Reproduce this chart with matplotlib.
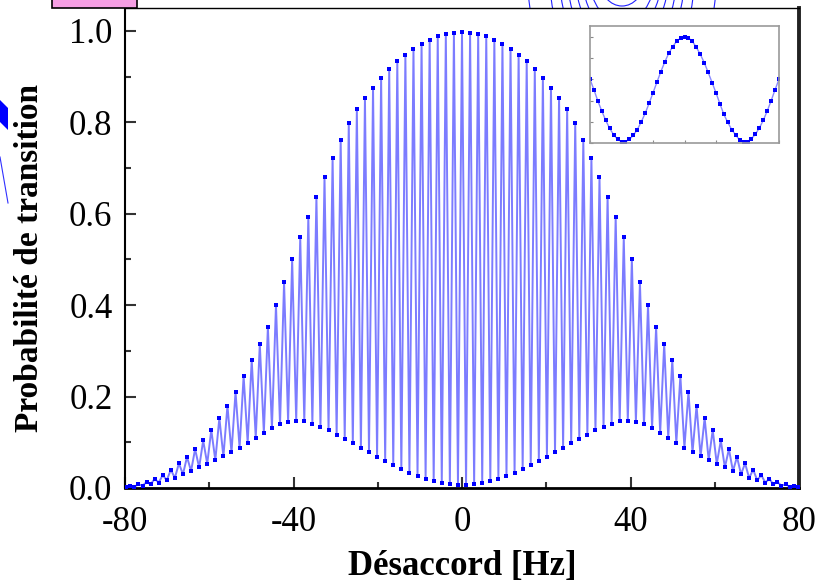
import matplotlib
matplotlib.use("agg")
import matplotlib.pyplot as plt
from matplotlib.patches import Rectangle, Polygon, Ellipse
from matplotlib.lines import Line2D
import numpy as np

plt.rcParams['font.family'] = ['Liberation Serif', 'DejaVu Serif']

# Ramsey fringes: fringe spacing (Hz) and the height of every fringe
# maximum / minimum on the positive side (the pattern is symmetric).
fringe_period = 1.92
peak_prob = [0.997, 0.996, 0.993, 0.988, 0.981, 0.972, 0.961, 0.948, 0.933, 0.916,
             0.897, 0.876, 0.853, 0.828, 0.798, 0.762, 0.722, 0.680, 0.637, 0.593,
             0.548, 0.500, 0.450, 0.400, 0.352, 0.315, 0.280, 0.245, 0.210, 0.180,
             0.153, 0.127, 0.104, 0.085, 0.068, 0.054, 0.040, 0.028, 0.020, 0.013,
             0.008, 0.004]
trough_prob = [0.006, 0.008, 0.011, 0.015, 0.020, 0.026, 0.033, 0.041, 0.050, 0.059,
               0.068, 0.078, 0.088, 0.098, 0.108, 0.117, 0.126, 0.134, 0.141, 0.146,
               0.147, 0.145, 0.139, 0.131, 0.121, 0.110, 0.099, 0.088, 0.078, 0.069,
               0.061, 0.053, 0.045, 0.037, 0.030, 0.022, 0.017, 0.012, 0.008, 0.005,
               0.003, 0.002]

# zoom on a few central fringes
inset_prob = [0.545, 0.455, 0.358, 0.273, 0.193, 0.125, 0.071, 0.031, 0.011, 0.011,
              0.031, 0.065, 0.114, 0.179, 0.253, 0.338, 0.429, 0.520, 0.611, 0.693,
              0.767, 0.824, 0.869, 0.898, 0.906, 0.898, 0.869, 0.818, 0.759, 0.688,
              0.605, 0.517, 0.429, 0.335, 0.244, 0.176, 0.114, 0.068, 0.026, 0.011,
              0.011, 0.037, 0.074, 0.128, 0.193, 0.273, 0.361, 0.455, 0.545]

x_ticks = [-80, -40, 0, 40, 80]
y_ticks = [0.0, 0.2, 0.4, 0.6, 0.8, 1.0]

# interleave minima and maxima: ... trough, peak(0), trough ...
half = []
for p, t in zip(peak_prob, trough_prob):
    half += [p, t]
prob = np.array(half[::-1][:-1] + half)
n_half = len(prob) // 2
detuning = np.arange(-n_half, n_half + 1) * fringe_period / 2

W, H = 817, 588
fig = plt.figure(figsize=(W / 100, H / 100), dpi=100)
ax = fig.add_axes([125 / W, 1 - 488 / H, 674 / W, 480 / H])

ax.plot(detuning, prob, color='#7c7cff', lw=1.4, zorder=2)
ax.plot(detuning, prob, ls='none', marker='s', ms=2.2, mew=0, color='#0000ff', zorder=3)

ax.set_xlim(-80, 80)
ax.set_ylim(0, 1.05)
ax.set_xticks(x_ticks)
ax.set_xticklabels(['%d' % v for v in x_ticks])
ax.set_yticks(y_ticks)
ax.set_yticklabels(['%.1f' % v for v in y_ticks])
ax.set_xticks(np.arange(-80, 81, 20), minor=True)
ax.set_yticks(np.arange(0, 1.01, 0.1), minor=True)
ax.tick_params(which='both', direction='in', colors='#333333', labelcolor='black',
               top=False, right=False, labelsize=25)
ax.tick_params(which='major', length=8, width=1.5)
ax.tick_params(which='minor', length=4.5, width=1.5)
ax.tick_params(axis='x', pad=13)
ax.tick_params(axis='y', pad=9)
for side, lw in (('left', 1.5), ('bottom', 2.0), ('top', 1.0), ('right', 2.8)):
    ax.spines[side].set_linewidth(lw)
ax.spines['right'].set_color('#222222')

fig.text(30 / W, 1 - 258 / H, 'Probabilité de transition', rotation=90,
         ha='center', va='center', fontsize=24, fontweight='bold')
fig.text(462 / W, 1 - 566 / H, 'Désaccord [Hz]', ha='center', va='center',
         fontsize=25, fontweight='bold')

# inset
ins = fig.add_axes([590 / W, 1 - 143 / H, 189 / W, 117 / H])
ins.plot(range(len(inset_prob)), inset_prob, color='#8a8aff', lw=1.0,
         marker='s', ms=2.8, mew=0, mfc='#0000ff')
ins.set_xlim(0, len(inset_prob) - 1)
ins.set_ylim(0, 1)
ins.set_xticks(range(0, len(inset_prob), 8))
ins.set_yticks(np.arange(0, 1.0, 0.1815))
ins.tick_params(direction='in', length=2.5, width=0.8, colors='#888888',
                labelleft=False, labelbottom=False)
for s in ins.spines.values():
    s.set_color('#9a9a9a')
    s.set_linewidth(1.2)

# slide decorations around the chart
def fx(x):
    return x / W

def fy(y):
    return 1 - y / H

fig.add_artist(Rectangle((fx(52), fy(8)), fx(137) - fx(52), fy(-5) - fy(8),
                         facecolor='#f59ee3', edgecolor='black', lw=1.2,
                         transform=fig.transFigure, clip_on=False))
fig.add_artist(Polygon([(fx(0), fy(100)), (fx(8), fy(108)), (fx(8), fy(130)),
                        (fx(0), fy(122))], closed=True, facecolor='#0000ff',
                       edgecolor='none', transform=fig.transFigure))
fig.add_artist(Line2D([fx(0), fx(8)], [fy(157), fy(203)], color='#3030ff', lw=0.8,
                      transform=fig.transFigure))
# contour rings, hidden behind the axes background below the frame
ring_a = [22, 32, 39, 46, 54, 62, 72, 94]
for a in ring_a:
    b = 26 + (a - 22) * 1.6
    fig.add_artist(Ellipse((fx(622), fy(-20)), 2 * a / W, 2 * b / H,
                           facecolor='none', edgecolor='#2020ff', lw=0.8,
                           transform=fig.transFigure, clip_on=False, zorder=-1))

fig.savefig('out.png', dpi=100)
